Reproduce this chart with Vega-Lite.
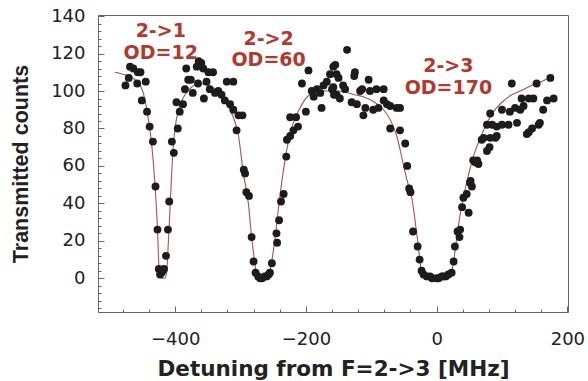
{
  "$schema": "https://vega.github.io/schema/vega-lite/v6.json",
  "autosize": "none",
  "width": 470,
  "height": 297,
  "padding": {"left": 98, "top": 15, "right": 20, "bottom": 69},
  "background": "white",
  "config": {
    "view": {"stroke": "#666666", "strokeWidth": 1},
    "axis": {"grid": false, "domain": false, "labelFont": "DejaVu Sans", "labelFontSize": 18, "labelColor": "#222222", "tickColor": "#666666", "titleFont": "DejaVu Sans", "titleFontWeight": "bold", "titleColor": "#222222", "labelFlush": false}
  },
  "datasets": {
    "points": [
      {"x": -476, "y": 103}, {"x": -471, "y": 107}, {"x": -469, "y": 113}, {"x": -464, "y": 112}, {"x": -458, "y": 104}, {"x": -457, "y": 110}, {"x": -453, "y": 110}, {"x": -445, "y": 105},
      {"x": -451, "y": 95}, {"x": -443, "y": 89}, {"x": -439, "y": 81}, {"x": -434, "y": 73}, {"x": -430, "y": 49}, {"x": -427, "y": 26}, {"x": -425, "y": 5}, {"x": -421, "y": 3}, {"x": -423, "y": 2}, {"x": -419, "y": 4}, {"x": -417, "y": 5},
      {"x": -414, "y": 12}, {"x": -411, "y": 26}, {"x": -409, "y": 41}, {"x": -405, "y": 73}, {"x": -402, "y": 67}, {"x": -396, "y": 80}, {"x": -398, "y": 94}, {"x": -393, "y": 89}, {"x": -388, "y": 93}, {"x": -385, "y": 101}, {"x": -383, "y": 112}, {"x": -380, "y": 106}, {"x": -376, "y": 106}, {"x": -373, "y": 99}, {"x": -367, "y": 113}, {"x": -365, "y": 104}, {"x": -364, "y": 116}, {"x": -360, "y": 115}, {"x": -357, "y": 112}, {"x": -356, "y": 96}, {"x": -352, "y": 105}, {"x": -349, "y": 110}, {"x": -347, "y": 101}, {"x": -342, "y": 110}, {"x": -339, "y": 99}, {"x": -334, "y": 100}, {"x": -329, "y": 98}, {"x": -324, "y": 95}, {"x": -321, "y": 105}, {"x": -316, "y": 93}, {"x": -311, "y": 105}, {"x": -311, "y": 90}, {"x": -306, "y": 79}, {"x": -303, "y": 87}, {"x": -297, "y": 87},
      {"x": -295, "y": 58}, {"x": -293, "y": 56}, {"x": -291, "y": 46}, {"x": -287, "y": 44}, {"x": -283, "y": 22}, {"x": -280, "y": 9}, {"x": -277, "y": 3}, {"x": -273, "y": 1}, {"x": -270, "y": 0}, {"x": -267, "y": 0}, {"x": -263, "y": 1}, {"x": -260, "y": 1}, {"x": -257, "y": 2}, {"x": -255, "y": 3}, {"x": -252, "y": 8}, {"x": -245, "y": 24}, {"x": -244, "y": 19}, {"x": -241, "y": 31}, {"x": -238, "y": 41}, {"x": -234, "y": 45}, {"x": -230, "y": 65}, {"x": -229, "y": 74}, {"x": -224, "y": 76}, {"x": -219, "y": 79}, {"x": -212, "y": 81}, {"x": -224, "y": 86}, {"x": -215, "y": 86}, {"x": -200, "y": 89}, {"x": -206, "y": 104}, {"x": -196, "y": 111}, {"x": -191, "y": 100}, {"x": -188, "y": 97}, {"x": -183, "y": 101}, {"x": -178, "y": 99}, {"x": -176, "y": 91}, {"x": -173, "y": 103}, {"x": -168, "y": 105}, {"x": -163, "y": 109}, {"x": -158, "y": 102}, {"x": -155, "y": 114}, {"x": -153, "y": 98}, {"x": -150, "y": 107}, {"x": -158, "y": 113}, {"x": -160, "y": 101}, {"x": -157, "y": 98}, {"x": -153, "y": 109},
      {"x": -137, "y": 122}, {"x": -148, "y": 96}, {"x": -143, "y": 103}, {"x": -140, "y": 101}, {"x": -126, "y": 108}, {"x": -125, "y": 110}, {"x": -130, "y": 94}, {"x": -122, "y": 93}, {"x": -117, "y": 100}, {"x": -114, "y": 101}, {"x": -112, "y": 87}, {"x": -109, "y": 91}, {"x": -104, "y": 106}, {"x": -102, "y": 100}, {"x": -97, "y": 90}, {"x": -92, "y": 101}, {"x": -89, "y": 91}, {"x": -81, "y": 101}, {"x": -81, "y": 95}, {"x": -76, "y": 93}, {"x": -71, "y": 92}, {"x": -71, "y": 80}, {"x": -61, "y": 91}, {"x": -56, "y": 91}, {"x": -56, "y": 79}, {"x": -48, "y": 72}, {"x": -45, "y": 60}, {"x": -42, "y": 48}, {"x": -40, "y": 46}, {"x": -36, "y": 25}, {"x": -29, "y": 17}, {"x": -26, "y": 10}, {"x": -23, "y": 4}, {"x": -20, "y": 2}, {"x": -15, "y": 1}, {"x": -10, "y": 1}, {"x": -7, "y": 0}, {"x": 0, "y": 0}, {"x": 3, "y": 0}, {"x": 8, "y": 1}, {"x": 10, "y": 1}, {"x": 14, "y": 1}, {"x": 18, "y": 2}, {"x": 23, "y": 3},
      {"x": 26, "y": 9}, {"x": 28, "y": 17}, {"x": 32, "y": 25}, {"x": 35, "y": 22}, {"x": 36, "y": 26}, {"x": 39, "y": 38}, {"x": 41, "y": 43}, {"x": 46, "y": 45}, {"x": 49, "y": 35}, {"x": 51, "y": 51}, {"x": 52, "y": 52}, {"x": 54, "y": 49}, {"x": 56, "y": 63}, {"x": 59, "y": 62}, {"x": 64, "y": 61}, {"x": 62, "y": 63}, {"x": 69, "y": 74}, {"x": 72, "y": 75}, {"x": 77, "y": 68}, {"x": 81, "y": 70}, {"x": 82, "y": 75}, {"x": 77, "y": 82}, {"x": 82, "y": 88}, {"x": 85, "y": 82}, {"x": 90, "y": 75}, {"x": 92, "y": 76}, {"x": 92, "y": 81}, {"x": 100, "y": 82}, {"x": 100, "y": 90}, {"x": 110, "y": 82}, {"x": 112, "y": 89}, {"x": 115, "y": 104}, {"x": 120, "y": 91}, {"x": 123, "y": 83}, {"x": 128, "y": 90}, {"x": 130, "y": 96}, {"x": 133, "y": 92}, {"x": 138, "y": 77}, {"x": 141, "y": 96}, {"x": 141, "y": 78}, {"x": 146, "y": 80}, {"x": 148, "y": 96}, {"x": 153, "y": 104}, {"x": 156, "y": 82}, {"x": 158, "y": 83}, {"x": 163, "y": 90}, {"x": 169, "y": 95}, {"x": 174, "y": 107}, {"x": 179, "y": 96}
    ],
    "fit": [
      {"x": -492, "y": 110}, {"x": -480, "y": 109}, {"x": -465, "y": 107}, {"x": -452, "y": 102}, {"x": -446, "y": 95}, {"x": -441, "y": 85}, {"x": -436, "y": 72}, {"x": -431, "y": 51}, {"x": -427, "y": 26}, {"x": -425, "y": 8}, {"x": -423, "y": 1}, {"x": -420, "y": 0}, {"x": -416, "y": 0}, {"x": -413, "y": 3}, {"x": -411, "y": 15}, {"x": -408, "y": 36}, {"x": -405, "y": 58}, {"x": -402, "y": 74}, {"x": -398, "y": 85}, {"x": -392, "y": 93}, {"x": -385, "y": 98}, {"x": -375, "y": 102}, {"x": -365, "y": 104}, {"x": -350, "y": 103}, {"x": -335, "y": 100}, {"x": -322, "y": 94}, {"x": -311, "y": 86}, {"x": -303, "y": 76}, {"x": -296, "y": 57}, {"x": -288, "y": 40}, {"x": -283, "y": 22}, {"x": -278, "y": 8}, {"x": -275, "y": 1}, {"x": -270, "y": 0}, {"x": -262, "y": 0}, {"x": -255, "y": 4}, {"x": -247, "y": 22}, {"x": -240, "y": 43}, {"x": -232, "y": 63}, {"x": -222, "y": 80}, {"x": -209, "y": 91}, {"x": -194, "y": 98}, {"x": -175, "y": 100}, {"x": -150, "y": 100}, {"x": -125, "y": 98}, {"x": -112, "y": 97}, {"x": -95, "y": 94}, {"x": -81, "y": 90}, {"x": -70, "y": 84}, {"x": -61, "y": 76}, {"x": -51, "y": 61}, {"x": -45, "y": 52}, {"x": -38, "y": 43}, {"x": -33, "y": 31}, {"x": -29, "y": 20}, {"x": -25, "y": 8}, {"x": -21, "y": 1}, {"x": -15, "y": 0}, {"x": 15, "y": 0}, {"x": 22, "y": 2}, {"x": 26, "y": 9}, {"x": 31, "y": 22}, {"x": 36, "y": 34}, {"x": 42, "y": 45}, {"x": 50, "y": 57}, {"x": 58, "y": 67}, {"x": 67, "y": 75}, {"x": 77, "y": 83}, {"x": 87, "y": 89}, {"x": 100, "y": 94}, {"x": 115, "y": 98}, {"x": 128, "y": 100}, {"x": 145, "y": 103}, {"x": 160, "y": 105}, {"x": 172, "y": 107}
    ],
    "labels": [
      {"x": -422, "y": 132, "text": "2->1"},
      {"x": -422, "y": 120.5, "text": "OD=12"},
      {"x": -257, "y": 128, "text": "2->2"},
      {"x": -257, "y": 116.5, "text": "OD=60"},
      {"x": 18, "y": 113.5, "text": "2->3"},
      {"x": 18, "y": 101.5, "text": "OD=170"}
    ]
  },
  "resolve": {"axis": {"x": "independent", "y": "independent"}},
  "layer": [
    {
      "data": {"name": "fit"},
      "mark": {"type": "line", "color": "#a8505c", "strokeWidth": 1.1, "interpolate": "monotone"},
      "encoding": {
        "x": {"field": "x", "type": "quantitative", "scale": {"domain": [-518, 201], "nice": false, "zero": false},
          "axis": {"orient": "bottom", "values": [-480, -440, -360, -320, -280, -240, -160, -120, -80, -40, 40, 80, 120, 160], "labels": false, "tickSize": -3, "title": null}},
        "y": {"field": "y", "type": "quantitative", "scale": {"domain": [-18, 140.6], "nice": false, "zero": false},
          "axis": {"orient": "left", "values": [-16, -12, -8, -4, 4, 8, 12, 16, 24, 28, 32, 36, 44, 48, 52, 56, 64, 68, 72, 76, 84, 88, 92, 96, 104, 108, 112, 116, 124, 128, 132, 136], "labels": false, "tickSize": -3, "title": null}}
      }
    },
    {
      "data": {"name": "points"},
      "mark": {"type": "circle", "size": 62, "color": "#1c1c1c", "opacity": 1},
      "encoding": {
        "x": {"field": "x", "type": "quantitative",
          "axis": {"orient": "bottom", "values": [-400, -200, 0, 200], "tickSize": -6, "labelPadding": 24, "title": "Detuning from F=2->3 [MHz]", "titleFontSize": 21.5, "titlePadding": 10}},
        "y": {"field": "y", "type": "quantitative",
          "axis": {"orient": "left", "values": [0, 20, 40, 60, 80, 100, 120, 140], "tickSize": -6, "labelPadding": 19, "title": "Transmitted counts", "titleFont": "Liberation Sans", "titleFontSize": 21.5, "titlePadding": 18}}
      }
    },
    {
      "data": {"name": "labels"},
      "mark": {"type": "text", "font": "DejaVu Sans", "fontWeight": "bold", "fontSize": 19, "color": "#b3392c", "align": "center", "baseline": "middle"},
      "encoding": {
        "x": {"field": "x", "type": "quantitative", "axis": null},
        "y": {"field": "y", "type": "quantitative", "axis": null},
        "text": {"field": "text"}
      }
    }
  ]
}
